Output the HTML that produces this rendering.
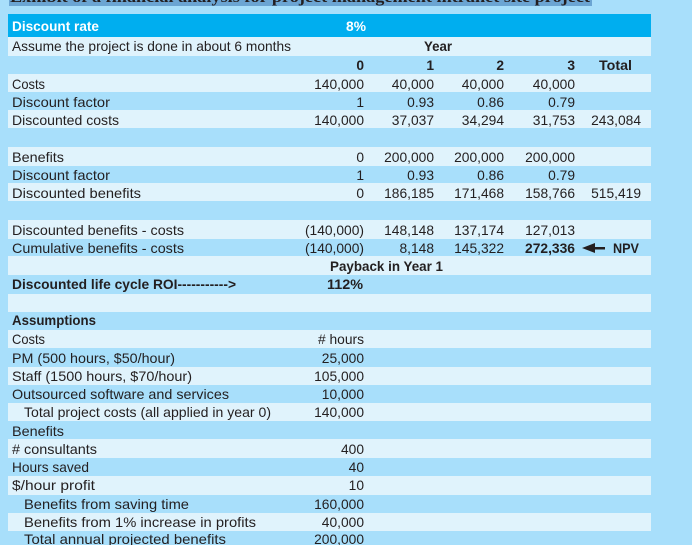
<!DOCTYPE html>
<html lang="en">
<head>
<meta charset="utf-8">
<title>Financial analysis table</title>
<style>
html,body{margin:0;padding:0;background:#a8dffb;}
svg{display:block;}
text{font-family:"Liberation Sans","DejaVu Sans",sans-serif;font-size:13.8px;fill:#231f20;}
.b{font-weight:bold;}
.n{text-anchor:end;}
.w{fill:#fff;font-weight:bold;}
.m{text-anchor:middle;}
rect.l{fill:#e0f3fc;}
</style>
</head>
<body>
<svg width="692" height="545" viewBox="0 0 692 545" xmlns="http://www.w3.org/2000/svg">
<rect width="692" height="545" fill="#a8dffb"/>
<g>
<rect x="9" y="0" width="583" height="6" fill="#6ba5d3"/>
<text x="10" y="2" textLength="580" lengthAdjust="spacingAndGlyphs" style="font-family:'Liberation Serif',serif;font-weight:bold;font-size:16px">Exhibit of a financial analysis for project management intranet site project</text>
</g>
<rect x="8" y="14" width="643" height="23" fill="#00aeef"/>
<g>
<rect class="l" x="8" y="37" width="643" height="19"/>
<rect class="l" x="8" y="74" width="643" height="18"/>
<rect class="l" x="8" y="110" width="643" height="18"/>
<rect class="l" x="8" y="147" width="643" height="19"/>
<rect class="l" x="8" y="183" width="643" height="18"/>
<rect class="l" x="8" y="220" width="643" height="19"/>
<rect class="l" x="8" y="256" width="643" height="19"/>
<rect class="l" x="8" y="294" width="643" height="18"/>
<rect class="l" x="8" y="330" width="643" height="18"/>
<rect class="l" x="8" y="367" width="643" height="18"/>
<rect class="l" x="8" y="403" width="643" height="18"/>
<rect class="l" x="8" y="439" width="643" height="19"/>
<rect class="l" x="8" y="476" width="643" height="19"/>
<rect class="l" x="8" y="513" width="643" height="18"/>
</g>
<g>
<text class="w" x="12" y="31" textLength="87" lengthAdjust="spacingAndGlyphs">Discount rate</text>
<text x="12" y="51" textLength="279" lengthAdjust="spacingAndGlyphs">Assume the project is done in about 6 months</text>
<text x="12" y="89" textLength="33" lengthAdjust="spacingAndGlyphs">Costs</text>
<text x="12" y="107" textLength="98" lengthAdjust="spacingAndGlyphs">Discount factor</text>
<text x="12" y="125" textLength="107" lengthAdjust="spacingAndGlyphs">Discounted costs</text>
<text x="12" y="162" textLength="52" lengthAdjust="spacingAndGlyphs">Benefits</text>
<text x="12" y="180" textLength="98" lengthAdjust="spacingAndGlyphs">Discount factor</text>
<text x="12" y="198" textLength="129" lengthAdjust="spacingAndGlyphs">Discounted benefits</text>
<text x="12" y="235" textLength="172" lengthAdjust="spacingAndGlyphs">Discounted benefits - costs</text>
<text x="12" y="253" textLength="172" lengthAdjust="spacingAndGlyphs">Cumulative benefits - costs</text>
<text class="b" x="12" y="289" textLength="224" lengthAdjust="spacingAndGlyphs">Discounted life cycle ROI-----------&gt;</text>
<text class="b" x="12" y="325" textLength="84" lengthAdjust="spacingAndGlyphs">Assumptions</text>
<text x="12" y="344" textLength="33" lengthAdjust="spacingAndGlyphs">Costs</text>
<text x="12" y="363" textLength="163" lengthAdjust="spacingAndGlyphs">PM (500 hours, $50/hour)</text>
<text x="12" y="381" textLength="180" lengthAdjust="spacingAndGlyphs">Staff (1500 hours, $70/hour)</text>
<text x="12" y="399" textLength="217" lengthAdjust="spacingAndGlyphs">Outsourced software and services</text>
<text x="24" y="417" textLength="247" lengthAdjust="spacingAndGlyphs">Total project costs (all applied in year 0)</text>
<text x="12" y="436" textLength="52" lengthAdjust="spacingAndGlyphs">Benefits</text>
<text x="12" y="454" textLength="85" lengthAdjust="spacingAndGlyphs"># consultants</text>
<text x="12" y="472" textLength="77" lengthAdjust="spacingAndGlyphs">Hours saved</text>
<text x="12" y="490" textLength="83" lengthAdjust="spacingAndGlyphs">$/hour profit</text>
<text x="24" y="509" textLength="165" lengthAdjust="spacingAndGlyphs">Benefits from saving time</text>
<text x="24" y="527" textLength="232" lengthAdjust="spacingAndGlyphs">Benefits from 1% increase in profits</text>
<text x="24" y="544" textLength="202" lengthAdjust="spacingAndGlyphs">Total annual projected benefits</text>
</g>
<g>
<text class="w n" x="366" y="31">8%</text>
<text class="b m" x="438" y="51" textLength="28" lengthAdjust="spacingAndGlyphs">Year</text>
<text class="b n" x="364" y="70">0</text>
<text class="b n" x="434" y="70">1</text>
<text class="b n" x="504" y="70">2</text>
<text class="b n" x="575" y="70">3</text>
<text class="b n" x="632" y="70" textLength="33" lengthAdjust="spacingAndGlyphs">Total</text>

<text class="n" x="364" y="89">140,000</text>
<text class="n" x="434" y="89">40,000</text>
<text class="n" x="504" y="89">40,000</text>
<text class="n" x="575" y="89">40,000</text>

<text class="n" x="364" y="107">1</text>
<text class="n" x="434" y="107">0.93</text>
<text class="n" x="504" y="107">0.86</text>
<text class="n" x="575" y="107">0.79</text>

<text class="n" x="364" y="125">140,000</text>
<text class="n" x="434" y="125">37,037</text>
<text class="n" x="504" y="125">34,294</text>
<text class="n" x="575" y="125">31,753</text>
<text class="n" x="641" y="125">243,084</text>

<text class="n" x="364" y="162">0</text>
<text class="n" x="434" y="162">200,000</text>
<text class="n" x="504" y="162">200,000</text>
<text class="n" x="575" y="162">200,000</text>

<text class="n" x="364" y="180">1</text>
<text class="n" x="434" y="180">0.93</text>
<text class="n" x="504" y="180">0.86</text>
<text class="n" x="575" y="180">0.79</text>

<text class="n" x="364" y="198">0</text>
<text class="n" x="434" y="198">186,185</text>
<text class="n" x="504" y="198">171,468</text>
<text class="n" x="575" y="198">158,766</text>
<text class="n" x="641" y="198">515,419</text>

<text class="n" x="364" y="235">(140,000)</text>
<text class="n" x="434" y="235">148,148</text>
<text class="n" x="504" y="235">137,174</text>
<text class="n" x="575" y="235">127,013</text>

<text class="n" x="364" y="253">(140,000)</text>
<text class="n" x="434" y="253">8,148</text>
<text class="n" x="504" y="253">145,322</text>
<text class="b n" x="575" y="253" textLength="50" lengthAdjust="spacingAndGlyphs">272,336</text>
<polygon points="582,248 595,243 595,247 605,247 605,249.5 595,249.5 595,253" fill="#231f20"/>
<text class="b" x="613" y="253" textLength="26" lengthAdjust="spacingAndGlyphs">NPV</text>

<text class="b" x="330" y="271" textLength="113" lengthAdjust="spacingAndGlyphs">Payback in Year 1</text>
<text class="b n" x="363" y="289" textLength="36" lengthAdjust="spacingAndGlyphs">112%</text>

<text class="n" x="364" y="344"># hours</text>
<text class="n" x="364" y="363">25,000</text>
<text class="n" x="364" y="381">105,000</text>
<text class="n" x="364" y="399">10,000</text>
<text class="n" x="364" y="417">140,000</text>
<text class="n" x="364" y="454">400</text>
<text class="n" x="364" y="472">40</text>
<text class="n" x="364" y="490">10</text>
<text class="n" x="364" y="509">160,000</text>
<text class="n" x="364" y="527">40,000</text>
<text class="n" x="364" y="544">200,000</text>
</g>
</svg>
</body>
</html>
